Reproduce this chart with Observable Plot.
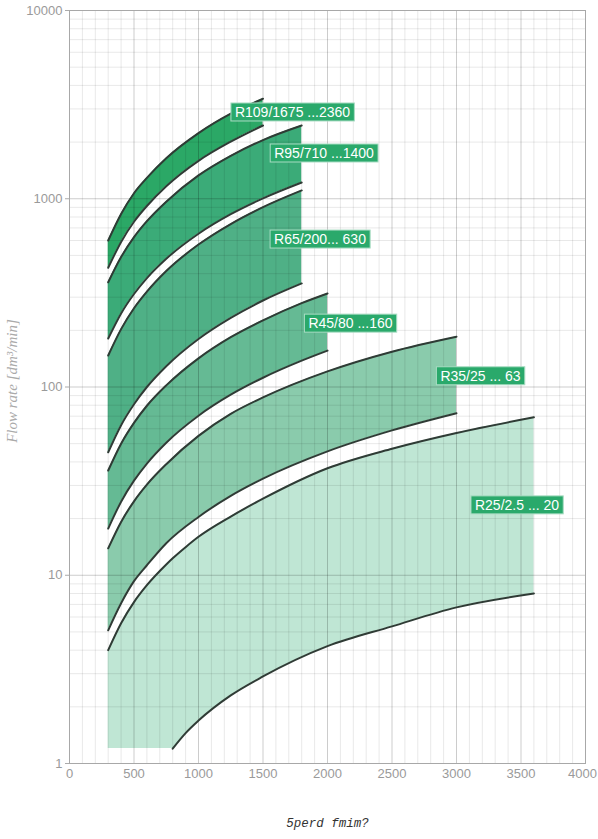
<!DOCTYPE html>
<html><head><meta charset="utf-8">
<script src="https://cdn.jsdelivr.net/npm/d3@7"></script>
<script src="https://cdn.jsdelivr.net/npm/@observablehq/plot@0.6"></script>
<style>body{margin:0;background:#fff;} #chart svg{display:block;}</style>
</head><body><div id="chart"></div>
<script>
// ---- data (speed in min^-1, flow rate in dm3/min) ----
const r109X = [300, 400, 500, 600, 750, 1000, 1250, 1500];
const r109Top = [600, 830, 1070, 1290, 1640, 2230, 2830, 3400];
const r109Bottom = [430, 590, 755, 915, 1165, 1590, 2010, 2450];

const r95X = [300, 400, 500, 600, 750, 1000, 1250, 1500, 1800];
const r95Top = [360, 490, 625, 760, 965, 1330, 1690, 2050, 2450];
const r95Bottom = [181, 246, 312, 379, 480, 652, 828, 1005, 1220];

const r65X = [300, 400, 500, 600, 750, 1000, 1250, 1500, 1800];
const r65Top = [147, 203, 262, 321, 413, 571, 734, 902, 1107];
const r65Bottom = [45, 62.7, 81, 100, 129, 180, 233, 288, 355];

const r45X = [300, 400, 500, 600, 750, 1000, 1250, 1500, 1800, 2000];
const r45Top = [36, 50, 64.5, 79.5, 102, 142, 184, 226, 279, 314];
const r45Bottom = [17.7, 24.6, 31.8, 39.2, 50.6, 70.4, 91, 112, 138, 156];

const r35X = [300, 400, 500, 600, 750, 1000, 1250, 1500, 2000, 2500, 3000];
const r35Top = [13.9, 19.2, 24.7, 30.3, 38.9, 55, 72, 88, 121, 154, 185];
const r35Bottom = [5.1, 7.1, 9.3, 11.3, 14.8, 20.4, 26.4, 32.6, 45.5, 58.8, 72.6];

const r25X = [300, 400, 500, 600, 750, 800, 900, 1000, 1250, 1500, 2000, 2500, 3000, 3600];
const r25Top = [4.0, 5.56, 7.2, 8.85, 11.4, 12.3, 14.1, 16, 20.5, 25.5, 37, 47, 57, 69];
const r25Bottom = [1.2, 1.2, 1.2, 1.2, 1.2, 1.2, 1.45, 1.69, 2.3, 2.9, 4.2, 5.35, 6.75, 8.0];
const r25CurveStart = 800;

const bandNames = ["R109", "R95", "R65", "R45", "R35", "R25"];
const bandFills = ["#2ba866", "#3bab78", "#4fb086", "#65ba94", "#8acbac", "#bfe6d4"];

const labelTexts = ["R109/1675 ...2360", "R95/710 ...1400", "R65/200... 630", "R45/80 ...160", "R35/25 ... 63", "R25/2.5 ... 20"];
const labelX = [1729, 1973, 1942, 2178, 3186, 3469];
const labelY = [2872, 1739, 607, 217, 114, 23.5];

const xTicks = [0, 500, 1000, 1500, 2000, 2500, 3000, 3500, 4000];
const yTicks = [1, 10, 100, 1000, 10000];

const yLabel = "Flow rate [dm³/min]";
const xLabel = "5perd fmim?";

// ---- build tables ----
const seriesX = [r109X, r95X, r65X, r45X, r35X, r25X];
const seriesTop = [r109Top, r95Top, r65Top, r45Top, r35Top, r25Top];
const seriesBottom = [r109Bottom, r95Bottom, r65Bottom, r45Bottom, r35Bottom, r25Bottom];
const bands = bandNames.map((name, i) => ({
  name, fill: bandFills[i],
  rows: seriesX[i].map((x, j) => ({x, top: seriesTop[i][j], bottom: seriesBottom[i][j]}))
}));
const labels = labelTexts.map((text, i) => ({text, x: labelX[i], y: labelY[i]}));

const minorX = d3.range(0, 4001, 100).filter(v => v % 500 !== 0);
const majorX = xTicks;
const minorY = [];
for (let d = 1; d < 10000; d *= 10) for (let k = 2; k <= 9; k++) minorY.push(d * k);
const majorY = yTicks;

const curve = "monotone-x";
const lineColor = "#2f3b35";
const font = "Liberation Sans, Arial, sans-serif";

const marks = [];
for (const b of bands) {
  marks.push(Plot.areaY(b.rows, {x: "x", y1: "bottom", y2: "top", fill: b.fill, curve}));
}
marks.push(
  Plot.ruleX(minorX, {stroke: "#000", strokeOpacity: 0.09}),
  Plot.ruleY(minorY, {stroke: "#000", strokeOpacity: 0.09}),
  Plot.ruleX(majorX, {stroke: "#000", strokeOpacity: 0.2}),
  Plot.ruleY(majorY, {stroke: "#000", strokeOpacity: 0.2})
);
for (const b of bands) {
  marks.push(Plot.line(b.rows, {x: "x", y: "top", stroke: lineColor, strokeWidth: 2, curve}));
  const bottomRows = b.name === "R25" ? b.rows.filter(r => r.x >= r25CurveStart) : b.rows;
  marks.push(Plot.line(bottomRows, {x: "x", y: "bottom", stroke: lineColor, strokeWidth: 2, curve}));
}
marks.push(
  Plot.frame({stroke: "#a8a8a8"}),
  Plot.text(labels, {x: "x", y: "y", text: "text", fill: "white", fontSize: 14, fontFamily: font}),
  Plot.axisX(xTicks.slice(0, -1), {tickSize: 0, tickPadding: 5, fill: "#9a9a9a", fontSize: 13, fontFamily: font, label: null, tickFormat: d => String(d)}),
  Plot.axisX(xTicks.slice(-1), {tickSize: 0, tickPadding: 5, dx: -3, fill: "#9a9a9a", fontSize: 13, fontFamily: font, label: null, tickFormat: d => String(d)}),
  Plot.axisY(yTicks, {tickSize: 4, tickPadding: 3, stroke: "#aaa", fill: "#9a9a9a", fontSize: 13, fontFamily: font, label: null, tickFormat: d => String(d)}),
  Plot.text([yLabel], {frameAnchor: "left", textAnchor: "middle", dx: -57, dy: -6, rotate: -90, fill: "#aaa", fontSize: 15, fontStyle: "italic", fontFamily: "Liberation Serif, Times New Roman, serif"}),
  Plot.text([xLabel], {frameAnchor: "bottom", dy: 63, fill: "#333", fontSize: 12.5, fontStyle: "italic", fontFamily: "Liberation Mono, monospace"})
);

const chart = Plot.plot({
  width: 598, height: 839,
  marginLeft: 69, marginRight: 13, marginTop: 10, marginBottom: 76,
  x: {domain: [0, 4000]},
  y: {type: "log", domain: [1, 10000]},
  style: {background: "#fff"},
  marks
});
document.getElementById("chart").append(chart);

// green boxes behind the band labels
chart.querySelectorAll("text").forEach(t => {
  if (!labelTexts.includes(t.textContent)) return;
  const bb = t.getBBox();
  const r = document.createElementNS("http://www.w3.org/2000/svg", "rect");
  r.setAttribute("x", bb.x - 4);
  r.setAttribute("y", bb.y - 1);
  r.setAttribute("width", bb.width + 8);
  r.setAttribute("height", bb.height + 2);
  r.setAttribute("fill", "#2aa96b");
  r.setAttribute("stroke", "#a9dcc3");
  r.setAttribute("stroke-width", "1");
  const tr = t.getAttribute("transform");
  if (tr) r.setAttribute("transform", tr);
  t.parentNode.insertBefore(r, t);
});
</script>
</body></html>
